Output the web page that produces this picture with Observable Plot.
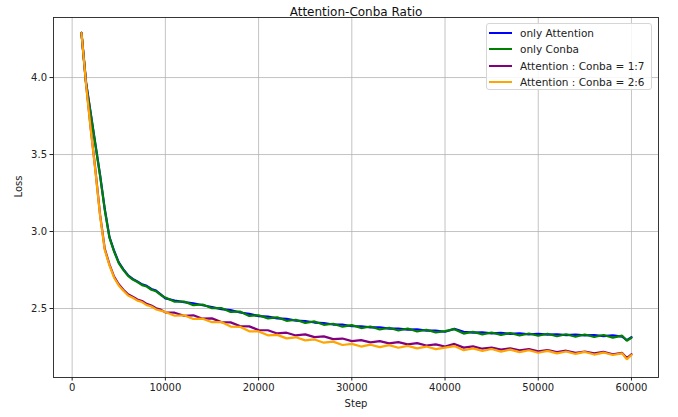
<!DOCTYPE html>
<html>
<head>
<meta charset="utf-8">
<script src="https://cdn.jsdelivr.net/npm/d3@7"></script>
<script src="https://cdn.jsdelivr.net/npm/@observablehq/plot@0.6"></script>
<style>
  body { margin: 0; background: #fff; font-family: "DejaVu Sans", sans-serif; }
  #wrap { position: relative; width: 678px; height: 417px; }
  #legend { position: absolute; left: 486px; top: 23px; width: 166px; height: 67px;
    border: 1px solid #d6d6d6; border-radius: 3px; background: rgba(255,255,255,0.85);
    font-size: 10.5px; color: #222; box-sizing: border-box; padding-top: 1px; }
  .item { display: flex; align-items: center; height: 16.3px; }
  .sw { width: 23px; height: 2px; margin-left: 2px; margin-right: 8px; }
</style>
</head>
<body>
<div id="wrap"></div>
<script>
const title = "Attention-Conba Ratio";
const seriesNames = ["only Attention", "only Conba", "Attention : Conba = 1:7", "Attention : Conba = 2:6"];
const seriesColors = ["#0000ff", "#008000", "#800080", "#ffa500"];
const xTicks = [0, 10000, 20000, 30000, 40000, 50000, 60000];
const yTicks = [2.5, 3.0, 3.5, 4.0];

const steps = [1000,1500,2000,2500,3000,3500,4000,4500,5000,5500,6000,6500,7000,7500,8000,8500,9000,9500,
  10000,11000,12000,13000,14000,15000,16000,17000,18000,19000,20000,21000,22000,23000,24000,25000,26000,27000,28000,29000,
  30000,31000,32000,33000,34000,35000,36000,37000,38000,39000,40000,41000,42000,43000,44000,45000,46000,47000,48000,49000,
  50000,51000,52000,53000,54000,55000,56000,57000,58000,59000,59500,60000];

const onlyAttention = [4.29,3.965,3.765,3.566,3.366,3.146,2.965,2.875,2.80,2.754,2.716,2.692,2.676,2.657,2.647,2.627,2.616,2.592,
  2.566,2.552,2.541,2.534,2.521,2.510,2.496,2.490,2.474,2.465,2.451,2.447,2.436,2.433,2.421,2.419,2.409,2.405,2.396,2.395,
  2.385,2.385,2.377,2.378,2.369,2.370,2.363,2.364,2.356,2.357,2.349,2.368,2.349,2.343,2.345,2.339,2.342,2.335,2.339,2.332,
  2.336,2.330,2.333,2.327,2.331,2.325,2.328,2.321,2.325,2.318,2.295,2.314];

const onlyConba = [4.29,3.96,3.76,3.56,3.36,3.14,2.96,2.87,2.795,2.75,2.712,2.688,2.672,2.652,2.643,2.622,2.612,2.588,
  2.571,2.544,2.545,2.522,2.526,2.502,2.503,2.478,2.480,2.452,2.456,2.436,2.443,2.420,2.427,2.407,2.416,2.394,2.401,2.382,
  2.392,2.373,2.383,2.364,2.375,2.357,2.370,2.351,2.362,2.345,2.353,2.366,2.337,2.349,2.332,2.344,2.329,2.341,2.325,2.338,
  2.323,2.336,2.320,2.333,2.317,2.331,2.315,2.328,2.311,2.324,2.290,2.310];

const ratio17 = [4.29,3.955,3.667,3.397,3.108,2.888,2.787,2.707,2.657,2.622,2.592,2.577,2.559,2.549,2.530,2.520,2.502,2.493,
  2.475,2.473,2.453,2.456,2.434,2.436,2.412,2.410,2.386,2.384,2.360,2.359,2.338,2.343,2.325,2.332,2.314,2.319,2.301,2.305,
  2.288,2.295,2.280,2.288,2.274,2.282,2.267,2.275,2.260,2.267,2.253,2.270,2.246,2.254,2.239,2.247,2.233,2.242,2.229,2.237,
  2.222,2.230,2.217,2.226,2.212,2.221,2.209,2.218,2.203,2.212,2.178,2.203];

const ratio26 = [4.29,3.95,3.66,3.39,3.10,2.88,2.78,2.70,2.65,2.615,2.585,2.570,2.551,2.542,2.522,2.513,2.494,2.486,
  2.477,2.453,2.456,2.432,2.434,2.411,2.412,2.383,2.381,2.352,2.351,2.326,2.329,2.306,2.313,2.293,2.299,2.278,2.285,2.263,
  2.270,2.253,2.265,2.249,2.262,2.245,2.257,2.241,2.253,2.236,2.246,2.256,2.229,2.241,2.225,2.237,2.220,2.233,2.217,2.229,
  2.213,2.225,2.209,2.221,2.205,2.218,2.201,2.214,2.198,2.209,2.170,2.198];

const allSeries = [onlyAttention, onlyConba, ratio17, ratio26];
const tables = allSeries.map((vals, i) => steps.map((s, j) => ({step: s, loss: vals[j], series: seriesNames[i]})));

const chart = Plot.plot({
  width: 678,
  height: 417,
  marginLeft: 53,
  marginRight: 20,
  marginTop: 17,
  marginBottom: 40,
  style: {fontFamily: "DejaVu Sans, sans-serif", fontSize: "10px", color: "#222", background: "#fff"},
  x: {domain: [-2000, 62900]},
  y: {domain: [2.052, 4.39]},
  marks: [
    Plot.gridX(xTicks, {stroke: "#b0b0b0", strokeOpacity: 0.75, strokeWidth: 1}),
    Plot.gridY(yTicks, {stroke: "#b0b0b0", strokeOpacity: 0.75, strokeWidth: 1}),
    ...tables.map((t, i) => Plot.line(t, {x: "step", y: "loss", stroke: seriesColors[i], strokeWidth: 2.2, strokeLinejoin: "miter"})),
    Plot.frame({stroke: "#222", strokeWidth: 0.9}),
    Plot.axisX(xTicks, {tickSize: 3.5, tickPadding: 3, label: null, fontSize: 10, stroke: "#222", tickFormat: d3.format("d")}),
    Plot.axisY(yTicks, {tickSize: 3.5, tickPadding: 3, label: null, fontSize: 10, stroke: "#222", tickFormat: d3.format(".1f")}),
    Plot.text([title], {frameAnchor: "top", dy: -10, fontSize: 12, fill: "#111"}),
    Plot.text(["Step"], {frameAnchor: "bottom", dy: 29, fontSize: 10, fill: "#222"}),
    Plot.text(["Loss"], {frameAnchor: "left", dx: -35, rotate: -90, fontSize: 10, fill: "#222"})
  ]
});

const wrap = document.getElementById("wrap");
wrap.appendChild(chart);

const legend = document.createElement("div");
legend.id = "legend";
seriesNames.forEach((name, i) => {
  const item = document.createElement("div");
  item.className = "item";
  const sw = document.createElement("div");
  sw.className = "sw";
  sw.style.background = seriesColors[i];
  const label = document.createElement("span");
  label.textContent = name;
  item.appendChild(sw);
  item.appendChild(label);
  legend.appendChild(item);
});
wrap.appendChild(legend);
</script>
</body>
</html>
